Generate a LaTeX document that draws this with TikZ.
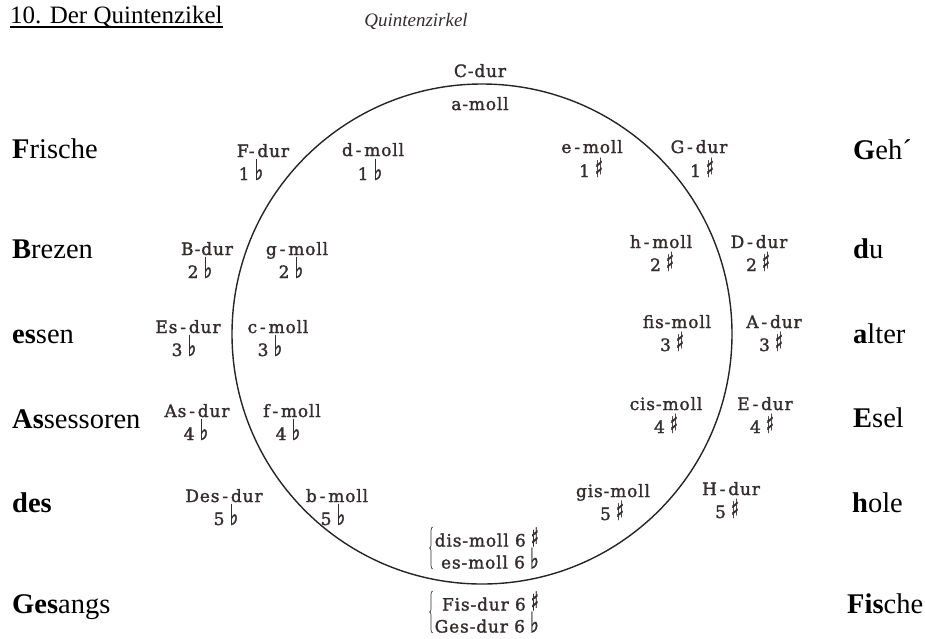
\documentclass[tikz,border=0pt]{standalone}
\usepackage{fontspec}
\setmainfont{Liberation Serif}
\newfontfamily\keyfont[LetterSpace=5, FakeBold=1.6]{DejaVu Serif}
\newfontfamily\musicfont[FakeBold=1.2]{DejaVu Sans}
\usepackage{tikz}
\usetikzlibrary{decorations.pathreplacing}
\definecolor{keyink}{RGB}{52,45,45}
\definecolor{ringink}{RGB}{40,36,36}
\newcommand{\flt}{\hspace{5pt}\scalebox{0.85}[1.3]{\musicfont\fontsize{22}{22}\selectfont ♭}}
\newcommand{\shp}{\hspace{5pt}\scalebox{0.75}[1.2]{\musicfont\fontsize{22}{22}\selectfont ♯}}

\begin{document}
\begin{tikzpicture}[x=1pt, y=-1pt,
  key/.style={font=\keyfont\fontsize{17}{22}\selectfont, text=keyink, inner sep=0pt, anchor=base},
  word/.style={font=\fontsize{28.5}{30}\selectfont, inner sep=0pt, anchor=base west},
  brc/.style={decorate, decoration={brace, amplitude=3pt}, draw=keyink, line width=0.7pt}]
  \useasboundingbox (0,0) rectangle (925,638);
  % headings
  \node[inner sep=0pt, anchor=base west, font=\fontsize{25}{28}\selectfont] (ttl) at (10,23) {10. Der Quintenzikel};
  \draw[line width=1.2pt] ([yshift=-4pt]ttl.base west) -- ([yshift=-4pt]ttl.base east);
  \node[inner sep=0pt, anchor=base, text=keyink, font=\itshape\fontsize{19}{22}\selectfont] (sub) at (416,26) {Quintenzirkel};
  % the ring
  \coordinate (M) at (482,334);
  \draw[ringink, line width=1.4pt] (M) circle[radius=250];
  % top and bottom
  \node[key] (Cdur) at (480,77) {C-dur};
  \node[key] (amoll) at (480,110) {a-moll};
  \node[key, anchor=east, align=right] (dismoll) at (539,548) {dis-moll 6\shp\\es-moll 6\flt};
  \node[key, anchor=east, align=right] (Fisdur) at (539,612) {Fis-dur 6\shp\\Ges-dur 6\flt};
  \draw[brc] ([xshift=-2pt]dismoll.south west) -- ([xshift=-2pt]dismoll.north west);
  \draw[brc] ([xshift=-2pt]Fisdur.south west) -- ([xshift=-2pt]Fisdur.north west);
  % flat side
  \node[key] (Fdur) at (263,157) {F-\,dur};      \node[key] (Fdur-n) at (251,180) {1\flt};
  \node[key] (dmoll) at (373,156) {d\,-\,moll};  \node[key] (dmoll-n) at (370,180) {1\flt};
  \node[key] (Bdur) at (207,255) {B-dur};        \node[key] (Bdur-n) at (200,278) {2\flt};
  \node[key] (gmoll) at (297,255) {g\,-\,moll};  \node[key] (gmoll-n) at (291,278) {2\flt};
  \node[key] (Esdur) at (188,333) {Es\,-\,dur};  \node[key] (Esdur-n) at (184,356) {3\flt};
  \node[key] (cmoll) at (278,333) {c\,-\,moll};  \node[key] (cmoll-n) at (270,356) {3\flt};
  \node[key] (Asdur) at (197,417) {As\,-\,dur};  \node[key] (Asdur-n) at (196,440) {4\flt};
  \node[key] (fmoll) at (292,417) {f\,-\,moll};  \node[key] (fmoll-n) at (288,440) {4\flt};
  \node[key] (Desdur) at (224,502) {Des\,-\,dur}; \node[key] (Desdur-n) at (226,525) {5\flt};
  \node[key] (bmoll) at (337,502) {b\,-\,moll};  \node[key] (bmoll-n) at (333,525) {5\flt};
  % sharp side
  \node[key] (emoll) at (592,153) {e\,-\,moll};  \node[key] (emoll-n) at (591,177) {1\shp};
  \node[key] (Gdur) at (699,153) {G\,-\,dur};    \node[key] (Gdur-n) at (702,177) {1\shp};
  \node[key] (hmoll) at (661,248) {h\,-\,moll};  \node[key] (hmoll-n) at (662,271) {2\shp};
  \node[key] (Ddur) at (759,248) {D\,-\,dur};    \node[key] (Ddur-n) at (758,271) {2\shp};
  \node[key] (fismoll) at (677,328) {fis-moll};  \node[key] (fismoll-n) at (672,351) {3\shp};
  \node[key] (Adur) at (774,328) {A\,-\,dur};    \node[key] (Adur-n) at (771,351) {3\shp};
  \node[key] (cismoll) at (666,410) {cis-moll};  \node[key] (cismoll-n) at (666,433) {4\shp};
  \node[key] (Edur) at (765,410) {E\,-\,dur};    \node[key] (Edur-n) at (762,433) {4\shp};
  \node[key] (gismoll) at (613,497) {gis-moll};  \node[key] (gismoll-n) at (612,520) {5\shp};
  \node[key] (Hdur) at (731,495) {H\,-\,dur};    \node[key] (Hdur-n) at (727,518) {5\shp};
  % mnemonic words
  \node[word] (wF) at (12,158) {\textbf{F}rische};
  \node[word] (wB) at (12,258) {\textbf{B}rezen};
  \node[word] (wEs) at (12,343) {\textbf{es}sen};
  \node[word] (wAs) at (12,428) {\textbf{As}sessoren};
  \node[word] (wDes) at (12,512) {\textbf{des}};
  \node[word] (wGes) at (12,613) {\textbf{Ges}angs};
  \node[word] (wG) at (853,159) {\textbf{G}eh´};
  \node[word] (wD) at (853,258) {\textbf{d}u};
  \node[word] (wA) at (853,343) {\textbf{a}lter};
  \node[word] (wE) at (853,427) {\textbf{E}sel};
  \node[word] (wH) at (852,512) {\textbf{h}ole};
  \node[word] (wFis) at (847,613) {\textbf{Fis}che};
\end{tikzpicture}
\end{document}
